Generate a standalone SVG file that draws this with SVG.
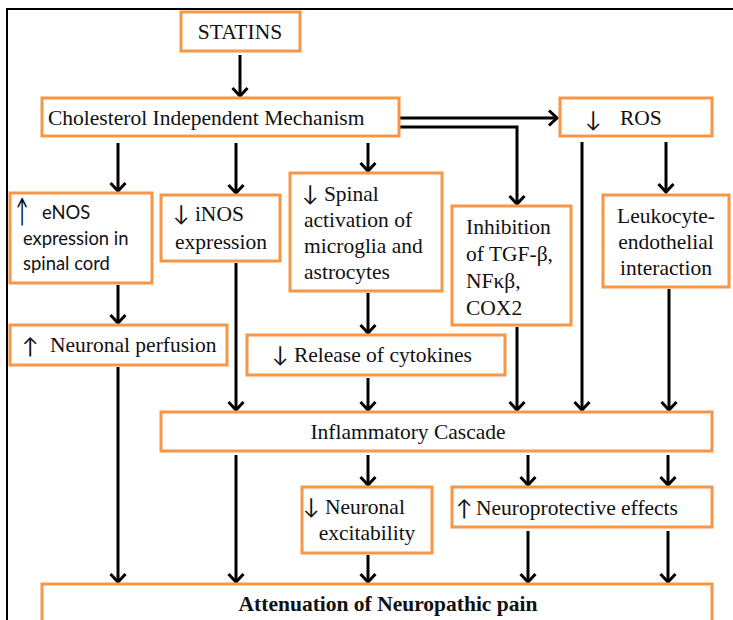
<svg xmlns="http://www.w3.org/2000/svg" width="733" height="620" viewBox="0 0 733 620">
<style>
.box{fill:#fff;stroke:#F79646;stroke-width:3}
.t{font-family:"Liberation Serif","Times New Roman",serif;font-size:21.5px;fill:#111}
.s{font-family:"Lato","Liberation Sans",sans-serif;font-size:18.4px;fill:#111}
.a{font-family:"Lato","DejaVu Sans",sans-serif;font-size:22px}
.c{stroke:#000;stroke-width:3;fill:none}
</style>
<defs>
<marker id="ah" markerUnits="userSpaceOnUse" markerWidth="20" markerHeight="20" refX="10" refY="10" orient="auto">
<path d="M2,2.5 L10,10 L2,17.5" fill="none" stroke="#000" stroke-width="3"/>
</marker>
</defs>
<rect x="7" y="9" width="740" height="640" fill="#fff" stroke="#000" stroke-width="2"/>
<g id="connectors">
<path class="c" d="M240,55 V96" marker-end="url(#ah)"/>
<path class="c" d="M400,118 H557" marker-end="url(#ah)"/>
<path class="c" d="M400,127 H517 V204" marker-end="url(#ah)"/>
<path class="c" d="M118,143 V191" marker-end="url(#ah)"/>
<path class="c" d="M236,143 V193" marker-end="url(#ah)"/>
<path class="c" d="M368,143 V171" marker-end="url(#ah)"/>
<path class="c" d="M582,142 V410" marker-end="url(#ah)"/>
<path class="c" d="M666,142 V192" marker-end="url(#ah)"/>
<path class="c" d="M669,289 V410" marker-end="url(#ah)"/>
<path class="c" d="M517,327 V410" marker-end="url(#ah)"/>
<path class="c" d="M118,285 V323" marker-end="url(#ah)"/>
<path class="c" d="M118,367 V582" marker-end="url(#ah)"/>
<path class="c" d="M236,263 V410" marker-end="url(#ah)"/>
<path class="c" d="M368,293 V333" marker-end="url(#ah)"/>
<path class="c" d="M368,378 V410" marker-end="url(#ah)"/>
<path class="c" d="M236,455 V582" marker-end="url(#ah)"/>
<path class="c" d="M368,455 V485" marker-end="url(#ah)"/>
<path class="c" d="M528,455 V485" marker-end="url(#ah)"/>
<path class="c" d="M668,455 V485" marker-end="url(#ah)"/>
<path class="c" d="M368,555 V582" marker-end="url(#ah)"/>
<path class="c" d="M528,531 V582" marker-end="url(#ah)"/>
<path class="c" d="M668,531 V582" marker-end="url(#ah)"/>
</g>
<g id="statins"><rect class="box" x="181" y="12" width="119" height="39"/><text class="t" x="240" y="39" text-anchor="middle">STATINS</text></g>
<g id="cholesterol"><rect class="box" x="42" y="98" width="357" height="38"/><text class="t" x="48" y="125">Cholesterol Independent Mechanism</text></g>
<g id="ros"><rect class="box" x="560" y="98" width="152" height="38"/><text class="t a" x="585" y="127">↓</text><text class="t" x="620" y="125">ROS</text></g>
<g id="enos"><rect class="box" x="10" y="193" width="142" height="90"/><text class="a" transform="translate(16,222) scale(0.75,1.45)">↑</text><text class="s" x="42" y="219">eNOS</text><text class="s" x="23" y="245">expression in</text><text class="s" x="23" y="270">spinal cord</text></g>
<g id="inos"><rect class="box" x="161" y="195" width="119" height="66"/><text class="t" x="173" y="221"><tspan class="a">↓</tspan> iNOS</text><text class="t" x="175" y="249">expression</text></g>
<g id="spinal"><rect class="box" x="290" y="173" width="152" height="118"/><text class="t" x="302" y="201"><tspan class="a">↓</tspan> Spinal</text><text class="t" x="304" y="227">activation of</text><text class="t" x="304" y="253">microglia and</text><text class="t" x="304" y="279">astrocytes</text></g>
<g id="inhibition"><rect class="box" x="452" y="206" width="119" height="119"/><text class="t" x="466" y="234">Inhibition</text><text class="t" x="466" y="261">of TGF-β,</text><text class="t" x="466" y="288">NFκβ,</text><text class="t" x="466" y="315">COX2</text></g>
<g id="leukocyte"><rect class="box" x="603" y="195" width="126" height="92"/><text class="t" x="666" y="223" text-anchor="middle">Leukocyte-</text><text class="t" x="666" y="249" text-anchor="middle">endothelial</text><text class="t" x="666" y="275" text-anchor="middle">interaction</text></g>
<g id="perfusion"><rect class="box" x="10" y="325" width="217" height="40"/><text class="t a" x="22" y="354">↑</text><text class="t" x="50" y="352">Neuronal perfusion</text></g>
<g id="release"><rect class="box" x="247" y="335" width="258" height="40"/><text class="t" x="272" y="362"><tspan class="a">↓</tspan> Release of cytokines</text></g>
<g id="inflammatory"><rect class="box" x="161" y="412" width="551" height="39"/><text class="t" x="408" y="439" text-anchor="middle">Inflammatory Cascade</text></g>
<g id="excitability"><rect class="box" x="302" y="487" width="130" height="66"/><text class="t" x="303" y="514"><tspan class="a">↓</tspan> Neuronal</text><text class="t" x="367" y="540" text-anchor="middle">excitability</text></g>
<g id="neuroprotective"><rect class="box" x="452" y="487" width="260" height="40"/><text class="t a" x="456" y="516">↑</text><text class="t" x="476" y="515">Neuroprotective effects</text></g>
<g id="attenuation"><rect class="box" x="42" y="584" width="670" height="60"/><text class="t" x="388" y="611" text-anchor="middle" font-weight="bold">Attenuation of Neuropathic pain</text></g>
</svg>
